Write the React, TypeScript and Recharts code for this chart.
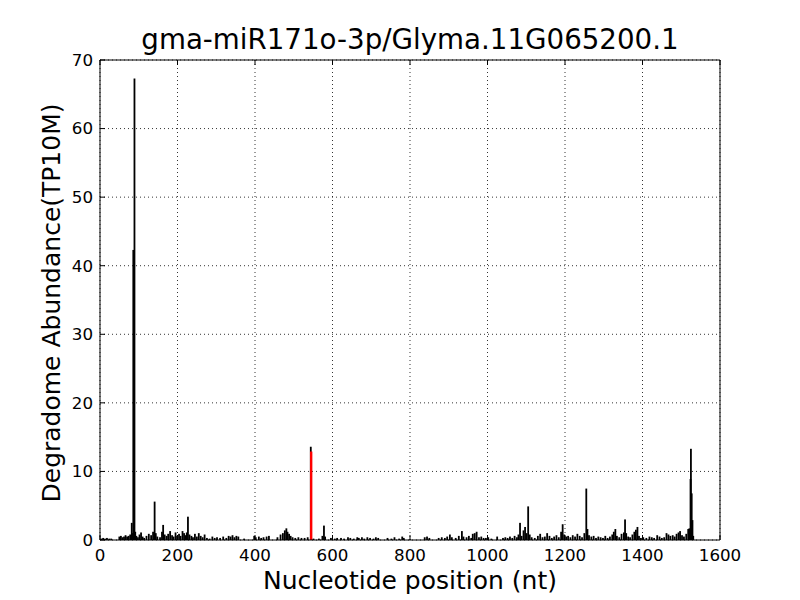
import React from "react";
import { BarChart, Bar, XAxis, YAxis, CartesianGrid } from "recharts";

// nucleotide positions with degradome reads (TP10M)
const positions = [
  3, 8, 13, 18, 24, 29, 50, 54, 58, 62, 66, 70, 74, 78, 82, 84, 86, 88, 89, 91, 94, 98,
  102, 106, 110, 114, 120, 126, 132, 137, 141, 144, 148, 155, 160, 163, 167, 172, 176, 181, 186, 190, 195, 199,
  204, 208, 213, 217, 221, 224, 227, 231, 236, 240, 245, 250, 255, 260, 265, 270, 276, 283, 290, 296,
  302, 310, 318, 326, 332, 337, 342, 347, 352, 357, 372, 398, 402, 410, 416, 422, 430, 436, 458, 466,
  472, 477, 481, 484, 488, 492, 497, 504, 512, 520, 528, 536, 544, 551, 565, 574, 578, 581, 596,
  606, 612, 622, 630, 640, 646, 655, 664, 668, 676, 682, 690, 697, 706, 712, 718, 742, 752, 760, 772,
  780, 784, 800, 838, 844, 850, 874, 882, 890, 896, 903, 908, 918, 926, 934, 938, 946, 952, 958, 962,
  967, 972, 978, 984, 990,
  996, 1002, 1010, 1025, 1040, 1046, 1052, 1058, 1064, 1070, 1076, 1080, 1084, 1088, 1093, 1097, 1101,
  1105, 1109, 1114, 1122, 1130, 1136, 1142, 1148, 1154, 1160, 1166, 1172, 1178, 1184, 1190, 1194, 1198,
  1203, 1208, 1214, 1220, 1226, 1232, 1238, 1244, 1250, 1255, 1258, 1262, 1268, 1274, 1280, 1286, 1292,
  1298, 1304, 1310, 1316,
  1322, 1326, 1330, 1334, 1340, 1346, 1352, 1355, 1358, 1363, 1368, 1374, 1379, 1383, 1387, 1391, 1396,
  1402, 1410, 1418, 1424, 1430, 1438, 1444, 1450, 1456, 1462, 1467, 1472, 1478, 1483, 1488, 1493, 1497,
  1502, 1507, 1513, 1518, 1521, 1524, 1525, 1527, 1529, 1531,
];

const abundance = [
  0.2, 0.3, 0.2, 0.3, 0.2, 0.2, 0.5, 0.6, 0.4, 0.5, 0.7, 0.5, 0.6, 0.8, 2.5, 1.0, 42.3, 3.0, 67.3, 1.2, 0.6, 0.4,
  0.8, 1.1, 0.5, 0.3, 0.6, 0.9, 0.7, 1.2, 5.6, 1.0, 0.5, 0.4, 1.2, 2.2, 0.8, 0.6, 0.9, 1.3, 0.7, 0.5, 1.1, 0.6,
  0.9, 0.6, 1.3, 1.0, 0.7, 1.1, 3.4, 0.8, 0.6, 0.4, 0.9, 0.5, 1.0, 0.6, 0.4, 0.8, 0.3, 0.2, 0.5, 0.3,
  0.4, 0.3, 0.5, 0.3, 0.6, 0.5, 0.7, 0.4, 0.6, 0.5, 0.2, 0.6, 0.4, 0.5, 0.3, 0.4, 0.5, 0.6, 0.4, 0.8,
  1.0, 1.4, 1.7, 1.2, 0.9, 0.6, 0.4, 0.3, 0.4, 0.3, 0.3, 0.4, 13.6, 0.2, 0.2, 0.6, 2.1, 0.5, 0.3,
  0.2, 0.3, 0.3, 0.2, 0.4, 0.3, 0.2, 0.4, 0.3, 0.4, 0.2, 0.4, 0.3, 0.2, 0.4, 0.3, 0.3, 0.2, 0.4, 0.2,
  0.5, 0.3, 0.1, 0.4, 0.5, 0.3, 0.3, 0.4, 0.3, 0.5, 0.8, 0.4, 0.3, 0.6, 1.3, 0.5, 0.4, 0.6, 0.3, 0.9,
  1.0, 1.2, 0.4, 0.5, 0.3,
  0.3, 0.4, 0.2, 0.5, 0.3, 0.4, 0.3, 0.5, 0.3, 0.6, 0.4, 0.8, 2.5, 0.6, 1.4, 1.9, 1.0,
  4.9, 0.8, 0.4, 0.3, 0.6, 0.9, 0.4, 0.5, 1.0, 0.6, 0.3, 0.5, 0.7, 0.4, 1.2, 2.3, 0.8,
  0.5, 0.6, 0.4, 0.7, 0.5, 0.9, 0.6, 0.4, 1.0, 7.5, 1.6, 0.7, 0.5, 0.6, 0.3, 0.5, 0.4,
  0.3, 0.6, 0.3, 0.5,
  0.8, 1.2, 1.6, 0.6, 0.4, 0.9, 1.1, 3.0, 1.0, 0.5, 0.4, 0.8, 1.2, 1.5, 1.9, 0.6, 0.3,
  0.4, 0.3, 0.5, 0.4, 0.3, 0.7, 0.5, 0.3, 0.4, 1.0, 0.8, 0.6, 0.7, 0.5, 0.9, 1.1, 1.3,
  0.7, 0.5, 0.9, 1.6, 1.7, 8.9, 13.3, 6.8, 2.9, 0.6,
];

// predicted cleavage site (drawn in red)
const cleavagePos = [545];
const cleavageVal = [12.9];

const xTicks = [0, 200, 400, 600, 800, 1000, 1200, 1400, 1600];
const yTicks = [0, 10, 20, 30, 40, 50, 60, 70];

const rows = [
  ...positions.map((p, i) => ({ pos: p, reads: abundance[i], site: 0 })),
  ...cleavagePos.map((p, i) => ({ pos: p, reads: 0, site: cleavageVal[i] })),
].sort((a, b) => a.pos - b.pos);

const FONT = "'DejaVu Sans', sans-serif";

function Spike(props: any) {
  const { x, y, width, height, fill, lw = 1.8 } = props;
  if (!height || height <= 0) return null;
  const cx = x + width / 2;
  return <rect x={cx - lw / 2} y={y} width={lw} height={height} fill={fill} />;
}

const tickStyle = { fontSize: 16.7, fill: "#000", fontFamily: FONT };

export default function App() {
  return (
    <div style={{ position: "fixed", left: 0, top: 0, width: 800, height: 600, background: "#fff", fontFamily: FONT }}>
      <div style={{ position: "absolute", left: 100, width: 620, top: 24, textAlign: "center", fontSize: 27.7, lineHeight: "32px", color: "#000" }}>
        gma-miR171o-3p/Glyma.11G065200.1
      </div>
      <BarChart
        width={800}
        height={600}
        data={rows}
        margin={{ top: 50, right: 70, bottom: 20, left: 40 }}
        barCategoryGap={0}
      >
        <CartesianGrid stroke="#000" strokeDasharray="1 3" strokeWidth={0.8} xAxisId="bottom" yAxisId="left" />
        <XAxis
          xAxisId="bottom"
          dataKey="pos"
          type="number"
          domain={[0, 1600]}
          ticks={xTicks}
          interval={0}
          height={40}
          stroke="#000"
          tickSize={-5}
          tickMargin={14}
          tick={tickStyle}
        />
        <XAxis
          xAxisId="top"
          orientation="top"
          dataKey="pos"
          type="number"
          domain={[0, 1600]}
          ticks={xTicks}
          interval={0}
          height={10}
          stroke="#000"
          tickSize={-5}
          tickFormatter={() => ""}
        />
        <YAxis
          yAxisId="left"
          type="number"
          domain={[0, 70]}
          ticks={yTicks}
          interval={0}
          width={60}
          stroke="#000"
          tickSize={-5}
          tickMargin={12}
          tick={tickStyle}
        />
        <YAxis
          yAxisId="right"
          orientation="right"
          type="number"
          domain={[0, 70]}
          ticks={yTicks}
          interval={0}
          width={10}
          stroke="#000"
          tickSize={-5}
          tickFormatter={() => ""}
        />
        <Bar dataKey="reads" xAxisId="bottom" yAxisId="left" stackId="s" fill="#000" barSize={2} shape={<Spike />} isAnimationActive={false} />
        <Bar dataKey="site" xAxisId="bottom" yAxisId="left" stackId="s" fill="#ff0000" barSize={2} shape={<Spike lw={2.4} />} isAnimationActive={false} />
      </BarChart>
      <div style={{ position: "absolute", left: 100, width: 620, top: 566, textAlign: "center", fontSize: 25, lineHeight: "30px", color: "#000" }}>
        Nucleotide position (nt)
      </div>
      <div
        style={{
          position: "absolute",
          left: 52,
          top: 303,
          transform: "translate(-50%, -50%) rotate(-90deg)",
          whiteSpace: "nowrap",
          fontSize: 25,
          lineHeight: "30px",
          color: "#000",
        }}
      >
        Degradome Abundance(TP10M)
      </div>
    </div>
  );
}
